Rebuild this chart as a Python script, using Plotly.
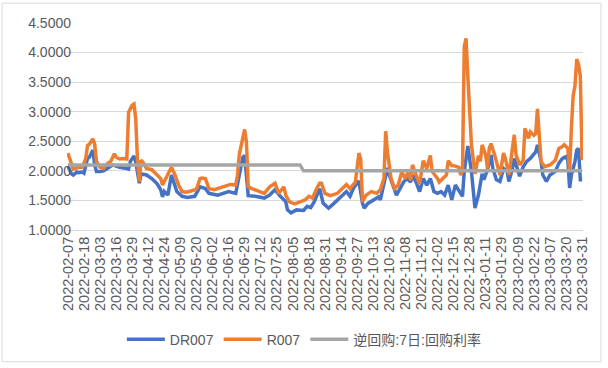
import plotly.graph_objects as go

# ---- data (trading-day index -> rate, %) ----
tick_labels = ["2022-02-07", "2022-02-18", "2022-03-03", "2022-03-16", "2022-03-29",
               "2022-04-12", "2022-04-24", "2022-05-09", "2022-05-20", "2022-06-02",
               "2022-06-16", "2022-06-29", "2022-07-12", "2022-07-25", "2022-08-05",
               "2022-08-18", "2022-08-31", "2022-09-14", "2022-09-27", "2022-10-13",
               "2022-10-26", "2022-11-08", "2022-11-21", "2022-12-02", "2022-12-15",
               "2022-12-28", "2023-01-11", "2023-01-29", "2023-02-09", "2023-02-22",
               "2023-03-07", "2023-03-20", "2023-03-31"]
TICK_STEP = 9  # one label every 9 trading days

dr007_day = [0, 2, 3, 5, 6, 8, 9, 10, 11, 12, 14, 15, 16, 18, 20, 22, 24, 25, 27, 29,
             33, 34, 35, 37, 38, 39, 40, 41, 44, 47, 50, 52, 53, 54, 56, 58, 61, 64, 67, 71,
             74, 77, 79, 84, 90, 94, 96, 98, 99, 100, 101, 105, 110, 113, 116, 119, 122, 123, 125, 128,
             132, 134, 136, 138, 140, 141, 143, 146, 149, 151, 153, 156, 158, 160, 162, 163, 165, 166, 168, 171,
             174, 175, 177, 179, 180, 182, 184, 186, 188, 190, 192, 193, 195, 197, 199, 201, 203, 205, 207, 209,
             211, 213, 215, 217, 219, 221, 222, 224, 226, 228, 230, 232, 233, 235, 237, 238, 240, 242, 244, 246,
             247, 249, 250, 252, 253, 255, 257, 259, 260, 262, 263, 265, 266, 268, 270, 273, 275, 277, 279, 280,
             281, 282, 284, 285, 286, 287, 288]
dr007_val = [2.08, 1.95, 1.93, 1.98, 1.97, 1.98, 1.96, 2.10, 2.21, 2.23, 2.35, 2.10, 1.99, 1.99, 2.00, 2.04, 2.07, 2.10, 2.08, 2.06,
             2.04, 2.03, 2.16, 2.25, 2.15, 2.00, 1.79, 1.95, 1.93, 1.87, 1.78, 1.68, 1.56, 1.65, 1.59, 1.93, 1.65, 1.57, 1.55, 1.57,
             1.73, 1.70, 1.62, 1.59, 1.65, 1.62, 1.93, 2.23, 2.26, 1.93, 1.58, 1.57, 1.54, 1.59, 1.68, 1.57, 1.48, 1.34, 1.29, 1.34,
             1.33, 1.40, 1.38, 1.48, 1.62, 1.70, 1.45, 1.37, 1.45, 1.51, 1.57, 1.65, 1.57, 1.71, 1.79, 1.83, 1.45, 1.37, 1.45, 1.51,
             1.56, 1.51, 1.76, 2.05, 1.93, 1.76, 1.59, 1.70, 1.81, 1.87, 1.81, 1.93, 1.81, 1.65, 1.87, 1.76, 1.87, 1.65, 1.62, 1.65,
             1.59, 1.76, 1.51, 1.76, 1.65, 1.57, 1.99, 2.42, 1.99, 1.37, 1.60, 1.95, 1.85, 2.02, 2.27, 2.04, 1.85, 1.82, 2.04, 1.99,
             1.82, 2.04, 2.21, 1.99, 1.91, 2.07, 2.16, 2.21, 2.24, 2.32, 2.44, 2.16, 1.93, 1.82, 1.93, 1.99, 2.13, 2.21, 2.24, 2.18,
             1.71, 1.93, 2.16, 2.35, 2.38, 1.85, 1.85]

r007_day = [0, 2, 3, 6, 8, 10, 11, 12, 14, 15, 16, 18, 20, 22, 24, 26, 27, 29, 31, 33,
            34, 36, 37, 38, 39, 40, 41, 42, 44, 47, 50, 52, 53, 56, 58, 60, 62, 64, 66, 69,
            72, 74, 75, 77, 79, 82, 84, 88, 91, 94, 95, 96, 97, 99, 100, 101, 103, 107, 110, 113,
            116, 118, 121, 122, 124, 127, 130, 133, 135, 137, 139, 141, 142, 144, 147, 151, 153, 156, 158, 160,
            161, 163, 164, 165, 167, 170, 173, 175, 177, 178, 179, 181, 183, 185, 187, 189, 191, 192, 193, 195,
            197, 199, 201, 203, 204, 207, 208, 210, 212, 213, 215, 217, 219, 220, 221, 222, 223, 224, 225, 226,
            228, 230, 231, 232, 234, 235, 236, 237, 239, 241, 242, 244, 245, 247, 249, 250, 251, 253, 255, 256,
            258, 259, 261, 262, 263, 264, 265, 267, 270, 273, 275, 277, 278, 280, 281, 282, 283, 284, 285, 286,
            287, 288]
r007_val = [2.30, 2.12, 2.03, 2.06, 2.06, 2.21, 2.43, 2.45, 2.54, 2.45, 2.16, 2.06, 2.04, 2.12, 2.16, 2.29, 2.23, 2.20, 2.21, 2.20,
            2.99, 3.11, 3.13, 2.88, 2.16, 1.82, 2.18, 2.15, 2.04, 2.02, 1.93, 1.87, 1.76, 1.93, 2.06, 1.93, 1.76, 1.65, 1.64, 1.66,
            1.69, 1.87, 1.88, 1.87, 1.70, 1.68, 1.70, 1.73, 1.77, 1.76, 1.93, 2.28, 2.42, 2.70, 2.48, 1.73, 1.70, 1.65, 1.62, 1.73,
            1.79, 1.62, 1.73, 1.59, 1.48, 1.44, 1.47, 1.51, 1.57, 1.54, 1.68, 1.79, 1.79, 1.62, 1.58, 1.62, 1.68, 1.77, 1.70, 1.77,
            1.81, 2.30, 2.20, 1.48, 1.59, 1.65, 1.62, 1.68, 1.87, 2.67, 2.31, 1.87, 1.70, 1.76, 1.98, 1.87, 2.01, 1.84, 2.10, 1.93,
            1.78, 2.17, 2.04, 2.26, 1.99, 1.87, 1.81, 1.87, 1.93, 2.17, 2.09, 2.08, 2.06, 1.93, 2.00, 4.10, 4.24, 3.60, 3.00, 2.45,
            1.95, 2.26, 2.16, 2.44, 2.27, 2.04, 2.38, 2.46, 2.27, 2.04, 1.93, 2.30, 2.21, 1.93, 2.32, 2.61, 2.27, 2.10, 2.18, 2.72,
            2.55, 2.66, 2.60, 2.63, 3.05, 2.55, 2.16, 2.07, 2.10, 2.18, 2.38, 2.41, 2.44, 2.38, 1.99, 2.72, 3.27, 3.44, 3.89, 3.80,
            3.60, 2.18]

repo_day = [0, 130, 132, 288]
repo_val = [2.10, 2.10, 2.00, 2.00]

series_names = ["DR007", "R007", "逆回购:7日:回购利率"]
colors = ["#4472C4", "#ED7D31", "#A5A5A5"]

FONT = "Liberation Sans, Arial, Noto Sans CJK SC, sans-serif"
TXT = "#595959"

fig = go.Figure()
for name, xs, ys, c in zip(series_names,
                           [dr007_day, r007_day, repo_day],
                           [dr007_val, r007_val, repo_val], colors):
    fig.add_trace(go.Scatter(x=xs, y=ys, mode="lines", name=name,
                             line=dict(color=c, width=3.5)))

n_days = (len(tick_labels) - 1) * TICK_STEP + 1
tickvals = [i * TICK_STEP for i in range(len(tick_labels))]

fig.update_layout(
    width=608, height=368,
    margin=dict(l=67, r=25, t=23, b=136),
    paper_bgcolor="white", plot_bgcolor="white",
    font=dict(family=FONT, size=14, color=TXT),
    showlegend=True,
    legend=dict(orientation="h", x=0.46, xanchor="center", y=-0.53, yanchor="middle",
                font=dict(size=14, color=TXT), itemwidth=38, tracegroupgap=0),
    xaxis=dict(range=[-0.5, n_days - 0.5], tickmode="array", tickvals=tickvals,
               ticktext=tick_labels, tickangle=-90, showgrid=False, zeroline=False,
               showline=True, linecolor="#D9D9D9", linewidth=1, ticks="",
               tickfont=dict(size=14.5, color=TXT)),
    yaxis=dict(range=[1.0, 4.5], dtick=0.5, tick0=1.0, tickformat=".4f",
               showgrid=True, gridcolor="#D9D9D9", gridwidth=1, zeroline=False,
               showline=False, ticks="", ticklabelstandoff=-5,
               tickfont=dict(size=14, color=TXT)),
    shapes=[dict(type="rect", xref="paper", yref="paper",
                 x0=(2 - 67) / 516, x1=(601 - 67) / 516,
                 y0=(232 - 365) / 209, y1=(232 - 3) / 209,
                 line=dict(color="#D9D9D9", width=1), fillcolor="rgba(0,0,0,0)",
                 layer="above")],
)

fig.write_html("out.html", config={"displayModeBar": False},
               post_script="document.body.style.margin='0';")
